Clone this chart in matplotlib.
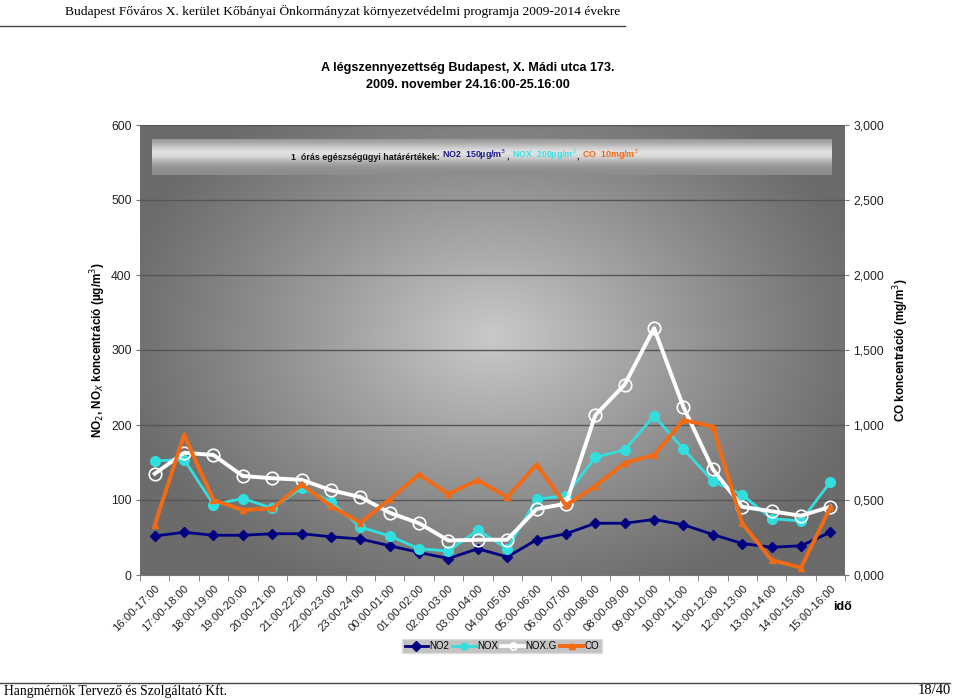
import numpy as np
import matplotlib
matplotlib.use("Agg")
import matplotlib.pyplot as plt
from matplotlib import font_manager

categories = ["16:00-17:00", "17:00-18:00", "18:00-19:00", "19:00-20:00", "20:00-21:00",
              "21:00-22:00", "22:00-23:00", "23:00-24:00", "00:00-01:00", "01:00-02:00",
              "02:00-03:00", "03:00-04:00", "04:00-05:00", "05:00-06:00", "06:00-07:00",
              "07:00-08:00", "08:00-09:00", "09:00-10:00", "10:00-11:00", "11:00-12:00",
              "12:00-13:00", "13:00-14:00", "14:00-15:00", "15:00-16:00"]
no2 = [52, 57, 53, 53, 55, 55, 51, 48, 39, 30, 22, 35, 24, 47, 55, 69, 69, 74, 67, 54, 42, 37, 39, 57]
nox = [152, 154, 94, 102, 89, 116, 98, 64, 52, 35, 32, 60, 35, 101, 106, 157, 167, 212, 168, 125, 107, 75, 72, 124]
noxg = [135, 163, 160, 132, 129, 127, 113, 104, 83, 69, 46, 47, 47, 88, 95, 213, 254, 329, 224, 141, 91, 85, 79, 91]
co = [0.333, 0.933, 0.50, 0.433, 0.444, 0.604, 0.46, 0.349, 0.504, 0.671, 0.54, 0.633, 0.518,
      0.736, 0.464, 0.593, 0.747, 0.80, 1.033, 0.989, 0.344, 0.10, 0.049, 0.451]
left_ticks = [0, 100, 200, 300, 400, 500, 600]
right_ticks = [0, 0.5, 1.0, 1.5, 2.0, 2.5, 3.0]

plt.rcParams['font.family'] = ['Liberation Sans', 'DejaVu Sans']

names = {f.name for f in font_manager.fontManager.ttflist}
if 'Liberation Sans Narrow' in names:
    narrow = ['Liberation Sans Narrow', 'DejaVu Sans']
    title_fs, bar_fs = 11, 7.6
else:
    narrow = ['Liberation Sans', 'DejaVu Sans']
    title_fs, bar_fs = 9.1, 6.4

W, H = 960, 700
fig = plt.figure(figsize=(9.6, 7.0), dpi=100)
fig.patch.set_facecolor('white')

def fx(px):
    return px / W

def fy(py):
    return 1 - py / H

# header / footer
fig.text(fx(65), fy(11), "Budapest Főváros X. kerület Kőbányai Önkormányzat környezetvédelmi programja 2009-2014 évekre",
         family=['Liberation Serif'], fontsize=9.7, va='center', ha='left')
fig.add_artist(plt.Line2D([0, fx(625)], [fy(26), fy(26)], color='#444444', lw=1))
fig.add_artist(plt.Line2D([0, fx(950)], [fy(683), fy(683)], color='#444444', lw=1))
fig.text(fx(4), fy(691), "Hangmérnök Tervező és Szolgáltató Kft.", family=['Liberation Serif'],
         fontsize=9.8, va='center', ha='left')
fig.text(fx(951), fy(691), "18/40", family=['Liberation Serif'], fontsize=10.5, va='center', ha='right')

# title
fig.text(fx(468), fy(68), "A légszennyezettség Budapest, X. Mádi utca 173.", fontsize=title_fs,
         family=narrow, weight='bold', ha='center', va='center')
fig.text(fx(468), fy(85), "2009. november 24.16:00-25.16:00", fontsize=title_fs,
         family=narrow, weight='bold', ha='center', va='center')

# main axes
ax = fig.add_axes([fx(140), fy(575), fx(845) - fx(140), fy(125) - fy(575)])
x = np.arange(len(categories))
ax.set_xlim(-0.5, len(categories) - 0.5)
ax.set_ylim(0, 600)

# background gradient
nx, ny = 300, 200
gx = np.linspace(0, 1, nx)
gy = np.linspace(0, 1, ny)
GX, GY = np.meshgrid(gx, gy)
d = np.sqrt(((GX - 0.5) / 0.55) ** 2 + ((GY - 0.53) / 0.62) ** 2)
val = 0.42 + 0.37 * np.clip(1 - d, 0, 1) ** 1.1
img = np.dstack([val, val, val])
ax.imshow(img, extent=[-0.5, len(categories) - 0.5, 0, 600], origin='lower',
          aspect='auto', zorder=0, interpolation='bilinear')

for v in left_ticks[1:]:
    ax.axhline(v, color='#555555', lw=1, zorder=1)

l1, = ax.plot(x, no2, color='#000080', lw=2, marker='D', ms=5, zorder=3, label='NO2')
l2, = ax.plot(x, nox, color='#33dede', lw=2, marker='o', ms=7, zorder=4, label='NOX')
l3, = ax.plot(x, noxg, color='white', lw=2.8, marker='o', ms=9, mfc='none', mec='white',
              mew=1.2, zorder=5, label='NOX.G')

ax.set_yticks(left_ticks)
ax.set_yticklabels([str(v) for v in left_ticks])
ax.set_xticks(x)
ax.set_xticklabels(categories, rotation=45, ha='right', rotation_mode='anchor', fontsize=8.2, color='#222222')
ax.set_xticks(np.arange(-0.5, len(categories), 1), minor=True)
ax.tick_params(axis='x', which='major', length=0, pad=6)
ax.tick_params(axis='x', which='minor', length=4, color='#777777', direction='out')
ax.tick_params(axis='y', length=3, color='#777777', labelsize=8.7, labelcolor='#222222', pad=3)
for s in ['top', 'right', 'left']:
    ax.spines[s].set_visible(False)
ax.spines['bottom'].set_color('#777777')

ax.set_ylabel("NO$_2$, NO$_X$ koncentráció (µg/m$^3$)", fontsize=8.5, weight='bold', labelpad=2)

ax2 = ax.twinx()
ax2.set_ylim(0, 3.0)
l4, = ax2.plot(x, co, color='#f26a14', lw=2.8, marker='^', ms=5, zorder=6, label='CO')
ax2.set_yticks(right_ticks)
ax2.set_yticklabels([f"{v:.3f}".replace('.', ',') for v in right_ticks])
ax2.tick_params(axis='y', length=3, color='#777777', labelsize=8.7, labelcolor='#222222', pad=3)
for s in ['top', 'left', 'bottom', 'right']:
    ax2.spines[s].set_visible(False)
ax2.set_ylabel("CO koncentráció (mg/m$^3$)", fontsize=8.5, weight='bold', labelpad=5)

fig.text(fx(833), fy(607), "idő", fontsize=9, weight='bold', ha='left', va='center')

# limit value bar
bx0, by0, bw, bh = 152, 139, 680, 36
bax = fig.add_axes([fx(bx0), fy(by0 + bh), bw / W, bh / H])
by = np.linspace(0, 1, 60)
prof = 0.55 + 0.33 * np.exp(-((by - 0.62) / 0.28) ** 2)
bim = np.tile(prof[:, None], (1, 10))
bax.imshow(np.dstack([bim, bim, bim]), aspect='auto', origin='lower', extent=[0, 1, 0, 1],
           interpolation='bilinear')
bax.set_xlim(0, 1)
bax.set_ylim(0, 1)
bax.axis('off')

kw = dict(va='bottom', ha='left', fontsize=bar_fs, weight='bold', family=narrow)
t0 = fig.text(fx(291), fy(157), "1  órás egészségügyi határértékek: ", color='#111111',
              fontsize=bar_fs, weight='bold', family=narrow, ha='left', va='center')
t1 = bax.annotate("NO2  150µg/m$^3$", xy=(1, 0), xycoords=t0, color='#1a1a8c', **kw)
t2 = bax.annotate(", ", xy=(1, 0), xycoords=t1, color='#111111', **kw)
t3 = bax.annotate("NOX  200µg/m$^3$", xy=(1, 0), xycoords=t2, color='#3fe0e0', **kw)
t4 = bax.annotate(", ", xy=(1, 0), xycoords=t3, color='#111111', **kw)
t5 = bax.annotate("CO  10mg/m$^3$", xy=(1, 0), xycoords=t4, color='#f26a14', **kw)

leg = fig.legend(handles=[l1, l2, l3, l4], loc='center', bbox_to_anchor=(fx(502), fy(646)),
                 ncol=4, fontsize=7, frameon=True, fancybox=False, handlelength=2.4,
                 columnspacing=0.3, handletextpad=0.15, borderpad=0.25)
leg.get_frame().set_facecolor('#b5b5b5')
leg.get_frame().set_edgecolor('#dddddd')
for h in leg.legend_handles:
    h.set_markersize(5)

fig.savefig("out.png", dpi=100)
